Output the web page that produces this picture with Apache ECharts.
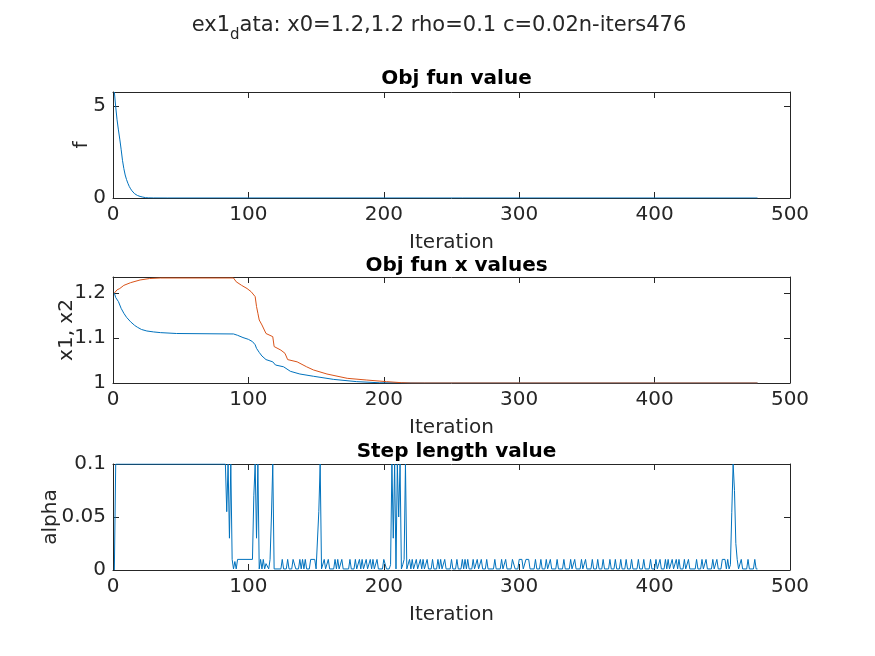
<!DOCTYPE html>
<html>
<head>
    <meta charset="utf-8">
    <script src="https://cdn.jsdelivr.net/npm/echarts@6/dist/echarts.min.js"></script>
    <style>
        html, body { margin: 0; padding: 0; background: #fff; }
    </style>
</head>
<body>
<div id="main" style="width: 875px;height:656px;"></div>
<script type="text/javascript">
    // values, [iteration, value]
    var fVals = [[1,5.76],[2,4.95],[3,4.25],[4,3.7],[5,3.2],[6,2.65],[7,2.05],[8,1.6],[9,1.25],[10,1.0],
        [11,0.8],[12,0.63],[13,0.5],[14,0.39],[15,0.3],[16,0.23],[17,0.18],[18,0.14],[19,0.11],[20,0.085],
        [21,0.065],[22,0.05],[23,0.035],[24,0.02],[26,0.01],[30,0.004],[40,0.001],[476,0]];

    var x1Vals = [[1,1.2],[2,1.19],[4,1.181],[6,1.166],[8,1.155],[10,1.146],[13,1.136],[16,1.128],[18,1.124],
        [21,1.119],[25,1.1156],[30,1.1135],[35,1.112],[47,1.11],[89,1.109],[92,1.106],[96,1.101],[100,1.097],
        [103,1.092],[105,1.085],[106,1.077],[108,1.068],[110,1.06],[113,1.052],[118,1.047],[120,1.04],
        [126,1.036],[131,1.026],[138,1.02],[148,1.015],[163,1.008],[180,1.003],[197,1.0005],[230,1.0],[476,1.0]];

    var x2Vals = [[1,1.2],[2,1.203],[3,1.207],[5,1.21],[8,1.217],[13,1.223],[20,1.229],[27,1.2322],[35,1.2334],
        [89,1.2334],[91,1.225],[95,1.217],[99,1.21],[102,1.203],[105,1.192],[106,1.17],[107,1.155],[108,1.14],
        [110,1.129],[113,1.11],[118,1.103],[119,1.081],[124,1.073],[127,1.066],[129,1.052],[136,1.047],
        [143,1.036],[148,1.029],[158,1.02],[173,1.0104],[187,1.0067],[202,1.003],[213,1.0007],[220,1.0],[476,1.0]];

    var alphaVals = [[1,0],[2,0.1],[83,0.1],[84,0.055],[85,0.1],[86,0.03],[87,0.1],[88,0.01],[89,0.001],[90,0.008],
        [91,0.001],[92,0.01],[103,0.01],[104,0.07],[105,0.1],[106,0.03],[107,0.1],[108,0.001],[109,0.01],[110,0.001],
        [111,0.01],[112,0.001],[113,0.006],[115,0.001],[116,0.01],[117,0.05],[118,0.1],[119,0.001],[124,0.001],
        [125,0.01],[126,0.001],[128,0.001],[129,0.01],[130,0.001],[132,0.001],[133,0.01],[134,0.01],[135,0.001],
        [137,0.001],[138,0.01],[139,0.001],[140,0.01],[141,0.001],[142,0.01],[143,0.001],[145,0.001],[146,0.01],
        [149,0.01],[150,0.001],[151,0.001],[152,0.055],[153,0.1],[154,0.001],[155,0.001],[156,0.01],[157,0.001],
        [158,0.001],[159,0.01],[160,0.001],[163,0.001],[164,0.01],[165,0.001],[166,0.01],[167,0.001],[168,0.001],
        [169,0.01],[170,0.001],[174,0.001],[175,0.01],[176,0.001],[178,0.001],[179,0.01],[180,0.001],[181,0.001],
        [182,0.01],[183,0.001],[184,0.01],[185,0.001],[186,0.001],[187,0.01],[188,0.001],[189,0.001],[190,0.01],
        [191,0.001],[192,0.01],[193,0.001],[194,0.001],[195,0.01],[196,0.001],[199,0.001],[200,0.01],[201,0.01],
        [202,0.001],[204,0.001],[205,0.005],[206,0.1],[207,0.03],[208,0.1],[209,0.001],[210,0.1],[211,0.05],
        [212,0.1],[213,0.001],[214,0.005],[215,0.01],[216,0.1],[217,0.001],[218,0.001],[219,0.01],[220,0.001],
        [221,0.01],[222,0.001],[223,0.001],[224,0.01],[225,0.001],[226,0.001],[227,0.01],[228,0.001],[229,0.01],
        [230,0.001],[231,0.001],[232,0.01],[233,0.001],[235,0.001],[236,0.01],[237,0.001],[239,0.001],[240,0.01],
        [241,0.001],[242,0.01],[243,0.001],[244,0.001],[245,0.01],[246,0.001],[249,0.001],[250,0.01],[251,0.001],
        [253,0.001],[254,0.01],[255,0.001],[257,0.001],[258,0.01],[259,0.001],[260,0.01],[261,0.001],[262,0.01],
        [263,0.001],[265,0.001],[266,0.01],[267,0.001],[268,0.001],[269,0.01],[270,0.001],[271,0.001],[272,0.01],
        [273,0.001],[275,0.001],[276,0.01],[277,0.001],[281,0.001],[282,0.01],[283,0.001],[286,0.001],[287,0.01],
        [288,0.001],[289,0.001],[290,0.01],[291,0.001],[294,0.001],[295,0.01],[296,0.01],[297,0.001],[299,0.001],
        [300,0.01],[302,0.01],[303,0.001],[304,0.001],[305,0.01],[307,0.01],[308,0.001],[311,0.001],[312,0.01],
        [313,0.001],[315,0.001],[316,0.01],[317,0.001],[319,0.001],[320,0.01],[321,0.001],[322,0.001],[323,0.01],
        [324,0.001],[327,0.001],[328,0.01],[329,0.001],[332,0.001],[333,0.01],[334,0.001],[337,0.001],[338,0.01],
        [339,0.001],[340,0.001],[341,0.01],[342,0.001],[345,0.001],[346,0.01],[347,0.001],[348,0.001],[349,0.01],
        [350,0.001],[353,0.001],[354,0.01],[355,0.001],[357,0.001],[358,0.01],[359,0.001],[361,0.001],[362,0.01],
        [363,0.001],[366,0.001],[367,0.01],[368,0.001],[370,0.001],[371,0.01],[372,0.001],[374,0.001],[375,0.01],
        [376,0.001],[378,0.001],[379,0.01],[380,0.001],[382,0.001],[383,0.01],[384,0.001],[387,0.001],[388,0.01],
        [389,0.001],[391,0.001],[392,0.01],[393,0.001],[396,0.001],[397,0.01],[398,0.001],[400,0.001],[401,0.01],
        [402,0.001],[403,0.001],[404,0.01],[405,0.001],[407,0.001],[408,0.01],[409,0.001],[410,0.01],[411,0.001],
        [412,0.001],[413,0.01],[414,0.001],[415,0.001],[416,0.01],[417,0.001],[418,0.01],[419,0.001],[421,0.001],
        [422,0.01],[423,0.001],[424,0.001],[425,0.01],[426,0.001],[430,0.001],[431,0.01],[432,0.001],[434,0.001],
        [435,0.01],[436,0.001],[437,0.001],[438,0.01],[439,0.001],[442,0.001],[443,0.01],[444,0.001],[445,0.001],
        [446,0.01],[447,0.001],[449,0.001],[450,0.01],[452,0.01],[453,0.001],[454,0.01],[455,0.001],[456,0.005],
        [457,0.054],[458,0.1],[459,0.075],[460,0.025],[461,0.01],[462,0.001],[463,0.001],[464,0.01],[465,0.001],
        [468,0.001],[469,0.01],[470,0.001],[473,0.001],[474,0.01],[475,0.001],[476,0.001]];

    var plotTitles = ['Obj fun value', 'Obj fun x values', 'Step length value'];
    var yNames = ['f', 'x1, x2', 'alpha'];
    var yMin = [0, 1, 0];
    var yMax = [5.76, 1.2356, 0.1];
    var yStep = [5, 0.1, 0.05];

    var FONT = 'DejaVu Sans';
    var INK = '#262626';
    var gridTops = [92, 277, 464];
    var titleTops = [64, 251, 437];
    var yNameGaps = [21, 36, 52];

    var myChart = echarts.init(document.getElementById('main'));

    var grids = [], xAxes = [], yAxes = [], titles = [];
    titles.push({
        text: '{n|ex1}{s|d}{n|ata: x0=1.2,1.2 rho=0.1 c=0.02n-iters476}',
        left: 434, top: 10, textAlign: 'center',
        textStyle: {
            fontWeight: 'normal',
            rich: {
                n: {fontFamily: FONT, fontSize: 21, fontWeight: 'normal', color: INK, lineHeight: 28, verticalAlign: 'top'},
                s: {fontFamily: FONT, fontSize: 15, fontWeight: 'normal', color: INK, lineHeight: 28, verticalAlign: 'bottom'}
            }
        }
    });

    for (var i = 0; i < 3; i++) {
        grids.push({left: 113, top: gridTops[i], width: 677, height: 106});
        titles.push({
            text: plotTitles[i], left: 451.5, top: titleTops[i], textAlign: 'center',
            textStyle: {fontFamily: FONT, fontSize: 20, fontWeight: 'bold', color: '#000'}
        });
        var line = {show: true, onZero: false, lineStyle: {color: INK, width: 1}};
        var tick = {show: true, inside: true, length: 6, lineStyle: {color: INK, width: 1}};
        xAxes.push({
            type: 'value', gridIndex: i, position: 'bottom', min: 0, max: 500, interval: 100,
            name: 'Iteration', nameLocation: 'middle', nameGap: 35, nameMoveOverlap: false,
            nameTextStyle: {fontFamily: FONT, fontSize: 20, color: INK},
            axisLine: line, axisTick: tick, splitLine: {show: false},
            axisLabel: {fontFamily: FONT, fontSize: 20, color: INK, margin: 7}
        });
        xAxes.push({
            type: 'value', gridIndex: i, position: 'top', min: 0, max: 500, interval: 100,
            axisLine: line, axisTick: tick, splitLine: {show: false}, axisLabel: {show: false}
        });
        yAxes.push({
            type: 'value', gridIndex: i, position: 'left', min: yMin[i], max: yMax[i], interval: yStep[i],
            name: yNames[i], nameLocation: 'middle', nameGap: yNameGaps[i], nameRotate: 90,
            nameMoveOverlap: false,
            nameTextStyle: {fontFamily: FONT, fontSize: 20, color: INK},
            axisLine: line, axisTick: tick, splitLine: {show: false},
            axisLabel: {fontFamily: FONT, fontSize: 20, color: INK, margin: 7}
        });
        yAxes.push({
            type: 'value', gridIndex: i, position: 'right', min: yMin[i], max: yMax[i], interval: yStep[i],
            axisLine: line, axisTick: tick, splitLine: {show: false}, axisLabel: {show: false}
        });
    }

    function lineSeries(data, axis, color) {
        return {
            type: 'line', data: data, xAxisIndex: axis * 2, yAxisIndex: axis * 2,
            showSymbol: false, symbol: 'none', clip: true,
            lineStyle: {color: color, width: 1}, z: 3
        };
    }

    var option = {
        animation: false,
        backgroundColor: '#fff',
        title: titles,
        grid: grids,
        xAxis: xAxes,
        yAxis: yAxes,
        series: [
            lineSeries(fVals, 0, '#0072BD'),
            lineSeries(x1Vals, 1, '#0072BD'),
            lineSeries(x2Vals, 1, '#D95319'),
            lineSeries(alphaVals, 2, '#0072BD')
        ]
    };

    myChart.setOption(option);
</script>
</body>
</html>
